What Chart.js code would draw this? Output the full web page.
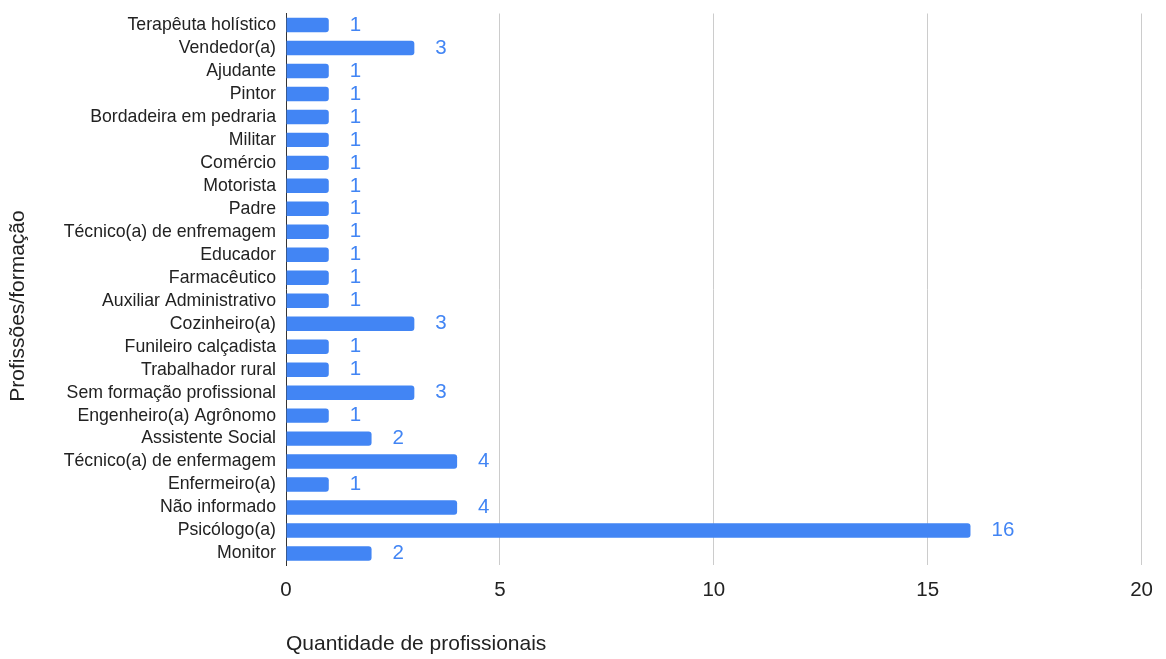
<html lang="en"><head>
<meta charset="UTF-8">
<title>Profissões/formação</title>
<script src="https://cdn.jsdelivr.net/npm/chart.js"></script>
<style>
  body { margin: 0; background: #fff; }
  .wrap { width: 1166px; height: 659px; }
</style>
</head>
<body>
<div class="wrap"><canvas id="chart"></canvas></div>
<script>
  const professions = [
    'Terapêuta holístico', 'Vendedor(a)', 'Ajudante', 'Pintor', 'Bordadeira em pedraria',
    'Militar', 'Comércio', 'Motorista', 'Padre', 'Técnico(a) de enfremagem', 'Educador',
    'Farmacêutico', 'Auxiliar Administrativo', 'Cozinheiro(a)', 'Funileiro calçadista',
    'Trabalhador rural', 'Sem formação profissional', 'Engenheiro(a) Agrônomo',
    'Assistente Social', 'Técnico(a) de enfermagem', 'Enfermeiro(a)', 'Não informado',
    'Psicólogo(a)', 'Monitor'
  ];
  const counts = [1, 3, 1, 1, 1, 1, 1, 1, 1, 1, 1, 1, 1, 3, 1, 1, 3, 1, 2, 4, 1, 4, 16, 2];
  const xTicks = [0, 5, 10, 15, 20];

  const blue = '#4285f4';
  const font = '"Liberation Sans", Arial, sans-serif';

  // value labels to the right of each bar
  const valueLabels = {
    id: 'valueLabels',
    afterDatasetsDraw(chart) {
      const ctx = chart.ctx;
      const meta = chart.getDatasetMeta(0);
      ctx.save();
      ctx.font = '20.5px ' + font;
      ctx.fillStyle = blue;
      ctx.textAlign = 'left';
      ctx.textBaseline = 'middle';
      meta.data.forEach((bar, i) => {
        ctx.fillText(String(counts[i]), bar.x + 21, bar.y);
      });
      ctx.restore();
    }
  };

  // y axis title, centred a bit lower like the original
  const yTitle = {
    id: 'yTitle',
    afterDraw(chart) {
      const ctx = chart.ctx;
      ctx.save();
      ctx.translate(18, 306);
      ctx.rotate(-Math.PI / 2);
      ctx.font = '21px ' + font;
      ctx.fillStyle = '#222';
      ctx.textAlign = 'center';
      ctx.textBaseline = 'middle';
      ctx.fillText('Profissões/formação', 0, 0);
      ctx.restore();
    }
  };

  new Chart(document.getElementById('chart'), {
    type: 'bar',
    data: {
      labels: professions,
      datasets: [{
        data: counts,
        backgroundColor: blue,
        borderRadius: 3,
        borderSkipped: 'start',
        categoryPercentage: 1,
        barPercentage: 0.63
      }]
    },
    options: {
      indexAxis: 'y',
      responsive: true,
      maintainAspectRatio: false,
      animation: false,
      layout: { padding: { top: 13.5, right: 24, bottom: 0, left: 0 } },
      plugins: { legend: { display: false }, tooltip: { enabled: false } },
      scales: {
        x: {
          min: 0,
          max: 20,
          afterBuildTicks(scale) { scale.ticks = xTicks.map(v => ({ value: v })); },
          afterFit(scale) { scale.height = 94; },
          grid: {
            color: ctx => ctx.tick && ctx.tick.value === 0 ? 'rgba(0,0,0,0)' : '#cccccc',
            lineWidth: 1,
            drawTicks: false
          },
          border: { display: false },
          ticks: { color: '#222', font: { family: font, size: 20.5 }, padding: 13 },
          title: {
            display: true,
            text: 'Quantidade de profissionais',
            align: 'start',
            color: '#222',
            font: { family: font, size: 21 },
            padding: { top: 0, bottom: 2 }
          }
        },
        y: {
          afterFit(scale) {
            scale.width = 286;
            scale.paddingTop = 0;
            scale.paddingBottom = 0;
          },
          grid: { display: false, drawTicks: false },
          border: { display: true, color: '#333', width: 1 },
          ticks: { color: '#222', font: { family: font, size: 17.7 }, padding: 10, autoSkip: false }
        }
      }
    },
    plugins: [valueLabels, yTitle]
  });
</script>
</body></html>
